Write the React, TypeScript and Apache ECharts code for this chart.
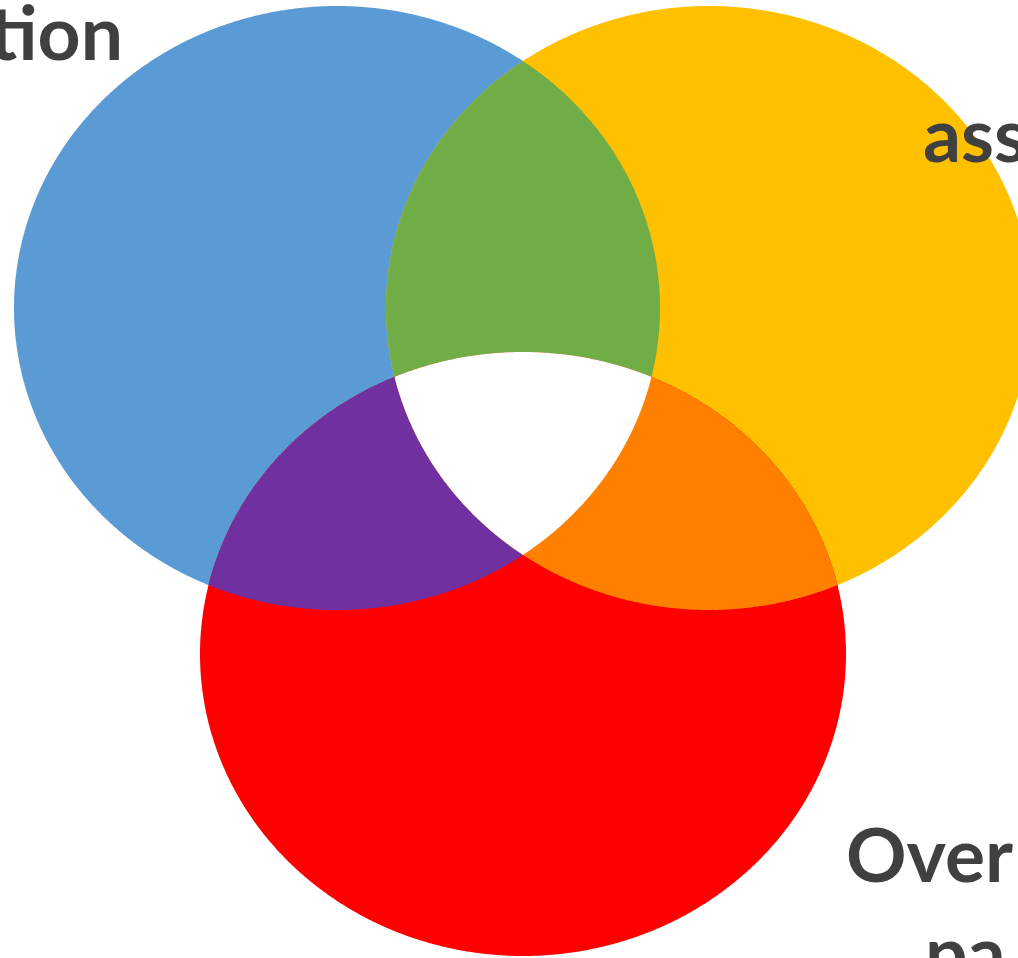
import React, { useEffect, useRef } from "react";
import * as echarts from "echarts";

// ---- Data ----
const setNames = ["set A", "set B", "set C"];
const setColors = ["#5B9BD5", "#FFC000", "#FF0000"];
const pairNames = ["A∩B", "A∩C", "B∩C"];
const pairMembers = [[0, 1], [0, 2], [1, 2]];
const pairColors = ["#70AD47", "#7030A0", "#FF8000"];
const tripleColor = "#FFFFFF";
const labelTexts = ["tion", "ass", "Over", "pa"];
const labelColor = "#404040";

// ---- Geometry (layout, in axis units) ----
const W = 1018;
const H = 958;
const centers = [
  [337, 308],
  [709, 308],
  [523, 654],
];
const RX = 323;
const RY = 302;
const N = 1440;

function inside(i: number, x: number, y: number) {
  const dx = (x - centers[i][0]) / RX;
  const dy = (y - centers[i][1]) / RY;
  return dx * dx + dy * dy <= 1 + 1e-9;
}

function regionPolygon(members: number[]): number[][] {
  const pts: number[][] = [];
  for (const m of members) {
    for (let k = 0; k < N; k++) {
      const t = (k / N) * Math.PI * 2;
      const x = centers[m][0] + RX * Math.cos(t);
      const y = centers[m][1] + RY * Math.sin(t);
      let ok = true;
      for (const o of members) {
        if (o !== m && !inside(o, x, y)) {
          ok = false;
          break;
        }
      }
      if (ok) pts.push([x, y]);
    }
  }
  let cx = 0,
    cy = 0;
  pts.forEach((p) => {
    cx += p[0];
    cy += p[1];
  });
  cx /= pts.length;
  cy /= pts.length;
  pts.sort(
    (a, b) => Math.atan2(a[1] - cy, a[0] - cx) - Math.atan2(b[1] - cy, b[0] - cx)
  );
  return pts;
}

type Region = { name: string; members: number[]; color: string };
const regions: Region[] = [
  ...setNames.map((n, i) => ({ name: n, members: [i], color: setColors[i] })),
  ...pairNames.map((n, i) => ({ name: n, members: pairMembers[i], color: pairColors[i] })),
  { name: "A∩B∩C", members: [0, 1, 2], color: tripleColor },
];

export default function App() {
  const ref = useRef<HTMLDivElement>(null);
  useEffect(() => {
    if (!ref.current) return;
    const chart = echarts.init(ref.current, undefined, { renderer: "svg" });
    const polys = regions.map((r) => regionPolygon(r.members));
    const font = "Lato";
    chart.setOption({
      animation: false,
      grid: { left: 0, right: 0, top: 0, bottom: 0 },
      xAxis: { type: "value", min: 0, max: W, show: false },
      yAxis: { type: "value", min: 0, max: H, inverse: true, show: false },
      series: [
        {
          type: "custom",
          coordinateSystem: "cartesian2d",
          silent: true,
          data: regions.map((r, i) => ({ name: r.name, value: [W / 2, H / 2, i] })),
          renderItem: (params: any, api: any) => {
            const i = params.dataIndex;
            return {
              type: "polygon",
              shape: { points: polys[i].map((p) => api.coord(p)) },
              style: { fill: regions[i].color, stroke: null },
            };
          },
        },
      ],
      graphic: [
        { t: labelTexts[0], x: 123, y: 31, a: "right" },
        { t: labelTexts[1], x: 923, y: 133, a: "left" },
        { t: labelTexts[2], x: 846, y: 853, a: "left" },
        { t: labelTexts[3], x: 925, y: 951, a: "left" },
      ].map((l) => ({
        type: "text",
        x: l.x,
        y: l.y,
        z: 100,
        style: {
          text: l.t,
          fill: labelColor,
          font: `bold 75px ${font}`,
          fontFamily: font,
          fontWeight: "bold",
          fontSize: 75,
          textAlign: l.a,
          align: l.a,
          textVerticalAlign: "middle",
          verticalAlign: "middle",
        },
      })),
    });
    return () => chart.dispose();
  }, []);
  return (
    <div
      ref={ref}
      style={{ position: "fixed", left: 0, top: 0, width: W, height: H }}
    />
  );
}
